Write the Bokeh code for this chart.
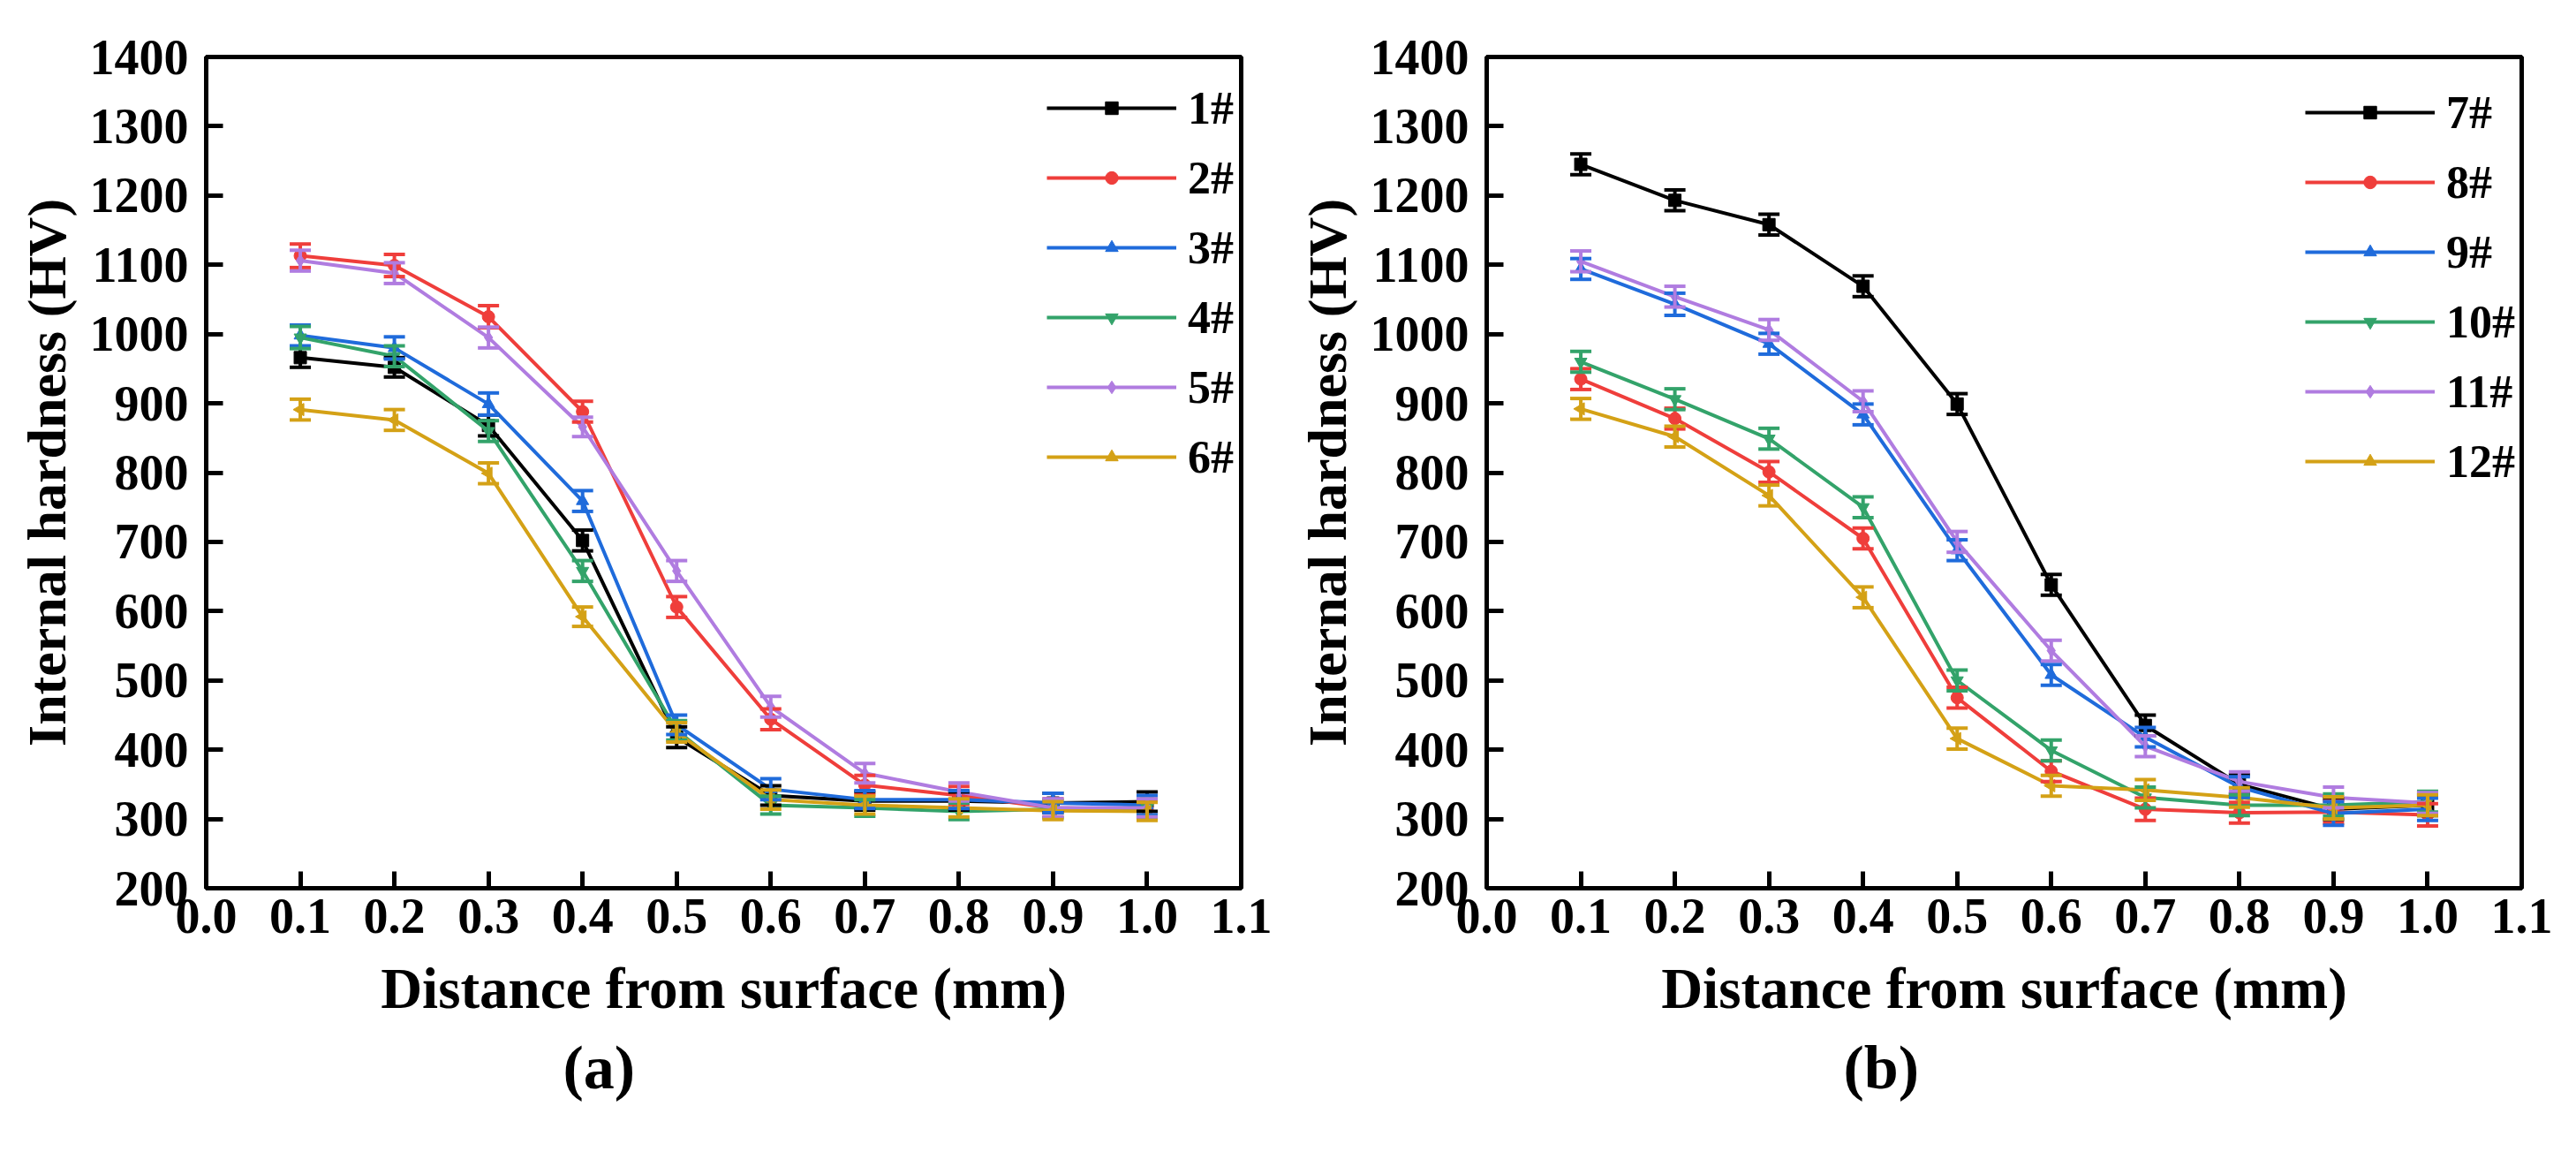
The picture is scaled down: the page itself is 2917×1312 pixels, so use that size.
import numpy as np
from bokeh.plotting import figure
from bokeh.models import (ColumnDataSource, Whisker, TeeHead, Legend, LegendItem,
                          FixedTicker, PrintfTickFormatter, Title, Range1d)
from bokeh.layouts import row
from bokeh.embed import file_html
from bokeh.resources import INLINE

# ---------------- data ----------------
distance = [0.1, 0.2, 0.3, 0.4, 0.5, 0.6, 0.7, 0.8, 0.9, 1.0]
x_ticks = [0.0, 0.1, 0.2, 0.3, 0.4, 0.5, 0.6, 0.7, 0.8, 0.9, 1.0, 1.1]
y_ticks = [200, 300, 400, 500, 600, 700, 800, 900, 1000, 1100, 1200, 1300, 1400]

names_a = ["1#", "2#", "3#", "4#", "5#", "6#"]
hv_1 = [966, 952, 868, 702, 418, 334, 326, 326, 323, 325]
hv_2 = [1113, 1099, 1025, 888, 606, 444, 349, 334, 316, 314]
hv_3 = [998, 980, 899, 759, 436, 343, 328, 328, 323, 320]
hv_4 = [995, 968, 860, 658, 428, 320, 316, 311, 314, 316]
hv_5 = [1106, 1088, 995, 866, 658, 462, 366, 339, 316, 316]
hv_6 = [891, 876, 799, 592, 425, 328, 320, 316, 312, 311]
err_1 = [14, 14, 15, 15, 15, 14, 13, 13, 14, 14]
err_2 = [17, 16, 16, 15, 15, 15, 14, 13, 13, 13]
err_3 = [15, 16, 16, 15, 14, 15, 13, 13, 14, 14]
err_4 = [16, 15, 15, 15, 14, 13, 12, 12, 13, 13]
err_5 = [15, 15, 15, 14, 15, 15, 14, 13, 13, 13]
err_6 = [15, 15, 15, 14, 14, 14, 13, 13, 13, 13]

names_b = ["7#", "8#", "9#", "10#", "11#", "12#"]
hv_7 = [1245, 1193, 1158, 1069, 899, 638, 435, 350, 314, 320]
hv_8 = [935, 878, 801, 705, 475, 369, 314, 309, 310, 306]
hv_9 = [1094, 1043, 986, 884, 688, 508, 418, 346, 308, 314]
hv_10 = [960, 906, 849, 750, 500, 399, 331, 320, 320, 325]
hv_11 = [1105, 1054, 1006, 903, 700, 543, 405, 354, 331, 323]
hv_12 = [892, 852, 767, 620, 416, 348, 342, 331, 316, 320]
err_7 = [15, 15, 15, 15, 15, 15, 15, 14, 15, 15]
err_8 = [15, 15, 15, 15, 15, 15, 16, 15, 16, 16]
err_9 = [15, 16, 15, 15, 15, 15, 14, 15, 17, 16]
err_10 = [15, 15, 15, 15, 15, 15, 15, 15, 16, 15]
err_11 = [15, 15, 15, 15, 15, 15, 15, 14, 15, 15]
err_12 = [15, 15, 15, 15, 15, 15, 15, 14, 16, 15]

colors = ["#000000", "#EF3E3B", "#1F6BDB", "#33A36A", "#B07CE0", "#D4A116"]
markers = ["square", "circle", "triangle", "inverted_triangle", "diamond", "triangle"]
angles = [0, 0, 0, 0, 0, np.pi / 2]

FONT = "Liberation Serif"


def make_panel(series, errs, names, tag, leg_x, leg_y, b_left, b_right):
    p = figure(frame_width=1172, frame_height=941,
               x_range=Range1d(0, 1.1), y_range=Range1d(200, 1400),
               output_backend="svg", toolbar_location=None,
               min_border_left=b_left, min_border_right=b_right,
               min_border_top=64, min_border_bottom=280)
    p.grid.visible = False
    p.background_fill_color = "white"
    p.border_fill_color = "white"
    p.outline_line_color = "black"
    p.outline_line_width = 5
    p.outline_line_alpha = 1

    for ax in (p.xaxis[0], p.yaxis[0]):
        ax.axis_line_width = 5
        ax.major_tick_line_width = 5
        ax.major_tick_in = 19
        ax.major_tick_out = 0
        ax.minor_tick_in = 0
        ax.minor_tick_out = 0
        ax.major_label_text_font = FONT
        ax.major_label_text_font_style = "bold"
        ax.major_label_text_font_size = "56px"
        ax.major_label_text_color = "black"
        ax.axis_label_text_font = FONT
        ax.axis_label_text_font_style = "bold"
        ax.axis_label_text_color = "black"

    p.xaxis.axis_label_text_font_size = "65px"
    p.yaxis.axis_label_text_font_size = "62px"
    p.xaxis.ticker = FixedTicker(ticks=x_ticks)
    p.xaxis.formatter = PrintfTickFormatter(format="%.1f")
    p.yaxis.ticker = FixedTicker(ticks=y_ticks)
    p.xaxis.major_label_standoff = 12
    p.yaxis.major_label_standoff = 20
    p.xaxis.axis_label = "Distance from surface (mm)"
    p.yaxis.axis_label = "Internal hardness (HV)"
    p.xaxis.axis_label_standoff = 24
    p.yaxis.axis_label_standoff = 12

    items = []
    for i, (vals, er, nm) in enumerate(zip(series, errs, names)):
        c = colors[i]
        up = [v + e for v, e in zip(vals, er)]
        lo = [v - e for v, e in zip(vals, er)]
        src = ColumnDataSource(dict(x=distance, y=vals, upper=up, lower=lo))
        w = Whisker(source=src, base="x", upper="upper", lower="lower",
                    line_color=c, line_width=4, level="glyph",
                    upper_head=TeeHead(size=24, line_color=c, line_width=4),
                    lower_head=TeeHead(size=24, line_color=c, line_width=4))
        p.add_layout(w)
        lr = p.line("x", "y", source=src, line_color=c, line_width=4)
        sr = p.scatter("x", "y", source=src, marker=markers[i], angle=angles[i],
                       size=14, fill_color=c, line_color=c)
        items.append(LegendItem(label=nm, renderers=[lr, sr]))

    leg = Legend(items=items, location=(leg_x, leg_y),
                 glyph_width=147, glyph_height=36, label_height=60,
                 spacing=19, padding=0, margin=0, label_standoff=13,
                 border_line_alpha=0, background_fill_alpha=0,
                 label_text_font=FONT, label_text_font_style="bold",
                 label_text_font_size="52px", label_text_color="black")
    p.add_layout(leg)

    t = Title(text=tag, align="left", offset=404, text_font=FONT,
              text_font_style="bold", text_font_size="70px",
              text_color="black", standoff=20)
    p.add_layout(t, "below")
    return p


pa = make_panel([hv_1, hv_2, hv_3, hv_4, hv_5, hv_6],
                [err_1, err_2, err_3, err_4, err_5, err_6],
                names_a, "(a)", 952, 458, 233, 45)
pb = make_panel([hv_7, hv_8, hv_9, hv_10, hv_11, hv_12],
                [err_7, err_8, err_9, err_10, err_11, err_12],
                names_b, "(b)", 927, 453, 233, 40)

layout = row(pa, pb)
open("out.html", "w").write(file_html(layout, INLINE))
